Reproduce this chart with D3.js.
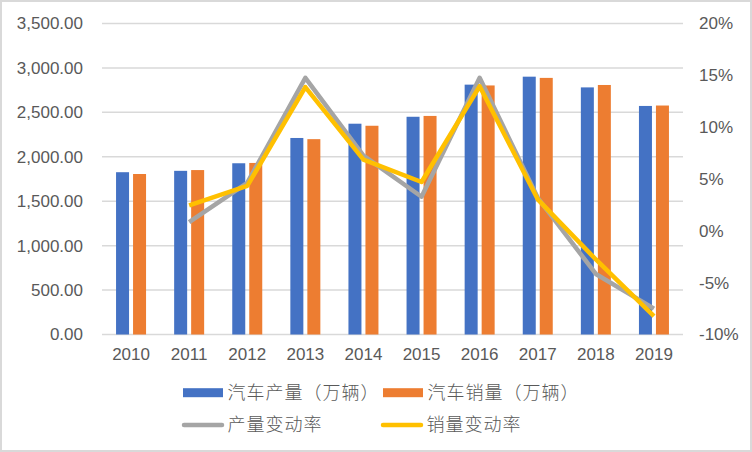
<!DOCTYPE html>
<html><head><meta charset="utf-8">
<script src="https://cdn.jsdelivr.net/npm/d3@7/dist/d3.min.js"></script>
<style>body{margin:0;background:#fff}svg{display:block}</style>
</head><body>
<svg id="c" width="752" height="452"></svg>
<script>
const years = ["2010","2011","2012","2013","2014","2015","2016","2017","2018","2019"];
const production = [1826.47,1841.89,1927.18,2211.68,2372.29,2450.33,2811.88,2901.54,2780.92,2572.10];
const sales = [1806.19,1850.51,1930.64,2198.41,2349.19,2459.76,2802.82,2887.89,2808.06,2576.90];
const prodRate = [null,0.84,4.63,14.76,7.26,3.29,14.76,3.19,-4.16,-7.51];
const salesRate = [null,2.45,4.33,13.87,6.86,4.71,13.95,3.04,-2.76,-8.23];
const leftTicks = [0,500,1000,1500,2000,2500,3000,3500];
const rightTicks = [-10,-5,0,5,10,15,20];
const seriesNames = ["汽车产量（万辆）","汽车销量（万辆）","产量变动率","销量变动率"];

const svg = d3.select("#c");
const font = "'Liberation Sans', Arial, 'Noto Sans CJK SC', sans-serif";
const txt = "#595959";
svg.append("rect").attr("x",1).attr("y",1).attr("width",750).attr("height",450)
  .attr("fill","#fff").attr("stroke","#D9D9D9").attr("stroke-width",2);

const L=102,R=683,T=23.5,B=334.5;
const x = d3.scaleBand().domain(years).range([L,R]);
const yL = d3.scaleLinear().domain([0,3500]).range([B,T]);
const yR = d3.scaleLinear().domain([-10,20]).range([B,T]);

// gridlines
svg.append("g").selectAll("line").data(leftTicks).join("line")
  .attr("x1",L).attr("x2",R).attr("y1",d=>yL(d)).attr("y2",d=>yL(d))
  .attr("stroke","#D9D9D9").attr("stroke-width",1.5);

// left axis labels
const aL = svg.append("g").attr("transform",`translate(${L},0)`)
  .call(d3.axisLeft(yL).tickValues(leftTicks).tickSize(0).tickPadding(19)
  .tickFormat(d=>d3.format(",.2f")(d)));
aL.select(".domain").remove();
aL.selectAll("text").attr("font-family",font).attr("font-size",17).attr("fill",txt);

const aR = svg.append("g").attr("transform",`translate(${R},0)`)
  .call(d3.axisRight(yR).tickValues(rightTicks).tickSize(0).tickPadding(16)
  .tickFormat(d=>d+"%"));
aR.select(".domain").remove();
aR.selectAll("text").attr("font-family",font).attr("font-size",17).attr("fill",txt);

const aX = svg.append("g").attr("transform",`translate(0,${B})`)
  .call(d3.axisBottom(x).tickSize(0).tickPadding(13));
aX.select(".domain").remove();
aX.selectAll("text").attr("font-family",font).attr("font-size",17).attr("fill",txt);

// bars
const bw = 13, gap = 4;
svg.append("g").selectAll("rect").data(production).join("rect")
  .attr("x",(d,i)=>x(years[i])+x.bandwidth()/2-gap/2-bw)
  .attr("width",bw).attr("y",d=>yL(d)).attr("height",d=>B-yL(d)).attr("fill","#4472C4");
svg.append("g").selectAll("rect").data(sales).join("rect")
  .attr("x",(d,i)=>x(years[i])+x.bandwidth()/2+gap/2)
  .attr("width",bw).attr("y",d=>yL(d)).attr("height",d=>B-yL(d)).attr("fill","#ED7D31");

// lines
const line = d3.line().defined(d=>d.v!=null)
  .x(d=>x(d.y)+x.bandwidth()/2).y(d=>yR(d.v));
svg.append("path").datum(years.map((y,i)=>({y,v:prodRate[i]})))
  .attr("d",line).attr("fill","none").attr("stroke","#A5A5A5").attr("stroke-width",4.5)
  .attr("stroke-linejoin","round");
svg.append("path").datum(years.map((y,i)=>({y,v:salesRate[i]})))
  .attr("d",line).attr("fill","none").attr("stroke","#FFC000").attr("stroke-width",4.5)
  .attr("stroke-linejoin","round");

// legend
const lg = svg.append("g");
const items = [
  {name:seriesNames[0],type:"rect",color:"#4472C4",x:183,y:392.7},
  {name:seriesNames[1],type:"rect",color:"#ED7D31",x:383,y:392.7},
  {name:seriesNames[2],type:"line",color:"#A5A5A5",x:183,y:425},
  {name:seriesNames[3],type:"line",color:"#FFC000",x:382,y:425}
];
items.forEach(it=>{
  if(it.type==="rect"){
    lg.append("rect").attr("x",it.x).attr("y",it.y-4.5).attr("width",40).attr("height",9).attr("fill",it.color);
  } else {
    lg.append("line").attr("x1",it.x+1).attr("x2",it.x+39).attr("y1",it.y).attr("y2",it.y)
      .attr("stroke",it.color).attr("stroke-width",4.5).attr("stroke-linecap","round");
  }
  lg.append("text").attr("x",it.x+44.5).attr("y",it.y).attr("dy","0.36em")
    .attr("font-family","'Noto Sans CJK SC', sans-serif").attr("font-weight",300)
    .attr("font-size",18).attr("letter-spacing",1).attr("fill",txt)
    .text(it.name);
});
</script>
</body></html>
